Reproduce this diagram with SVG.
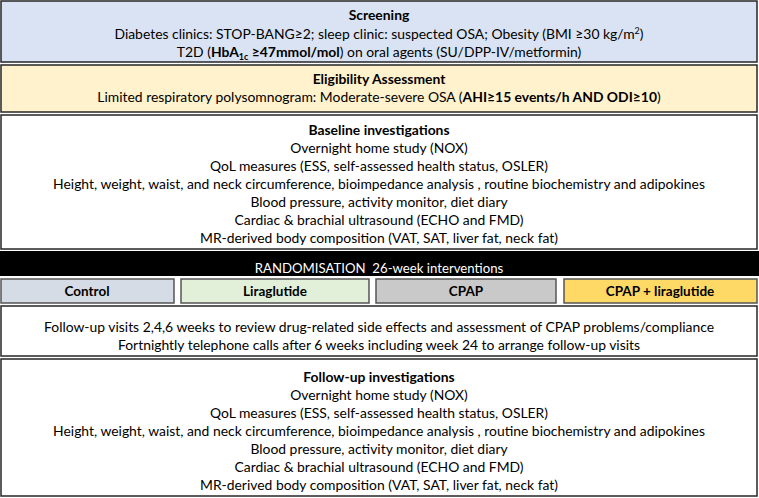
<svg xmlns="http://www.w3.org/2000/svg" width="759" height="498" viewBox="0 0 759 498">
<style>
.box{stroke:#262626;stroke-width:1.5}
.arm{stroke:#555;stroke-width:1.5}
text{font-family:Lato,"Liberation Sans",sans-serif;font-size:13.9px;fill:#000;text-anchor:middle}
.b{font-weight:bold}
.a{font-size:13.5px}
.w{fill:#fff;font-size:13.2px}
</style>
<rect width="759" height="498" fill="#fff"/>
<g id="screening">
<rect class="box" x="1" y="1" width="756" height="61" fill="#dae3f3"/>
<text class="b" x="379" y="20">Screening</text>
<text x="379" y="39">Diabetes clinics: STOP-BANG≥2; sleep clinic: suspected OSA; Obesity (BMI ≥30 kg/m<tspan font-size="9" dy="-5">2</tspan><tspan dy="5">)</tspan></text>
<text x="379" y="57">T2D (<tspan class="b">HbA</tspan><tspan class="b" font-size="9" dy="3">1c</tspan><tspan class="b" dy="-3"> ≥47mmol/mol</tspan>) on oral agents (SU/DPP-IV/metformin)</text>
</g>
<g id="eligibility">
<rect class="box" x="1" y="65" width="756" height="47" fill="#fff2cc"/>
<text class="b" x="379" y="84">Eligibility Assessment</text>
<text x="379" y="102">Limited respiratory polysomnogram: Moderate-severe OSA (<tspan class="b">AHI≥15 events/h AND ODI≥10</tspan>)</text>
</g>
<g id="baseline">
<rect class="box" x="1" y="115" width="756" height="134" fill="#fff"/>
<text class="b" x="379" y="135">Baseline investigations</text>
<text x="379" y="153">Overnight home study (NOX)</text>
<text x="379" y="171">QoL measures (ESS, self-assessed health status, OSLER)</text>
<text x="379" y="189">Height, weight, waist, and neck circumference, bioimpedance analysis , routine biochemistry and adipokines</text>
<text x="379" y="207">Blood pressure, activity monitor, diet diary</text>
<text x="379" y="225">Cardiac &amp; brachial ultrasound (ECHO and FMD)</text>
<text x="379" y="243">MR-derived body composition (VAT, SAT, liver fat, neck fat)</text>
</g>
<g id="randomisation">
<rect x="0" y="251" width="759" height="25" fill="#000"/>
<text class="w" x="379" y="273" xml:space="preserve">RANDOMISATION  26-week interventions</text>
</g>
<g id="control">
<rect class="arm" x="1" y="279" width="173" height="24" fill="#d6dce5"/>
<text class="b a" x="87" y="296">Control</text>
</g>
<g id="liraglutide">
<rect class="arm" x="181" y="279" width="188" height="24" fill="#e2f0d9"/>
<text class="b a" x="275" y="296">Liraglutide</text>
</g>
<g id="cpap">
<rect class="arm" x="376" y="279" width="180" height="24" fill="#c9c9c9"/>
<text class="b a" x="466" y="296">CPAP</text>
</g>
<g id="cpap-liraglutide">
<rect class="arm" x="564" y="279" width="193" height="24" fill="#ffd966"/>
<text class="b a" x="660" y="296">CPAP + liraglutide</text>
</g>
<g id="followup-visits">
<rect class="box" x="1" y="306" width="756" height="50" fill="#fff"/>
<text x="379" y="332">Follow-up visits 2,4,6 weeks to review drug-related side effects and assessment of CPAP problems/compliance</text>
<text x="379" y="350">Fortnightly telephone calls after 6 weeks including week 24 to arrange follow-up visits</text>
</g>
<g id="followup-investigations">
<rect class="box" x="1" y="359" width="756" height="137" fill="#fff"/>
<text class="b" x="379" y="382">Follow-up investigations</text>
<text x="379" y="400">Overnight home study (NOX)</text>
<text x="379" y="418">QoL measures (ESS, self-assessed health status, OSLER)</text>
<text x="379" y="436">Height, weight, waist, and neck circumference, bioimpedance analysis , routine biochemistry and adipokines</text>
<text x="379" y="454">Blood pressure, activity monitor, diet diary</text>
<text x="379" y="472">Cardiac &amp; brachial ultrasound (ECHO and FMD)</text>
<text x="379" y="490">MR-derived body composition (VAT, SAT, liver fat, neck fat)</text>
</g>
<g id="connectors"></g>
</svg>
